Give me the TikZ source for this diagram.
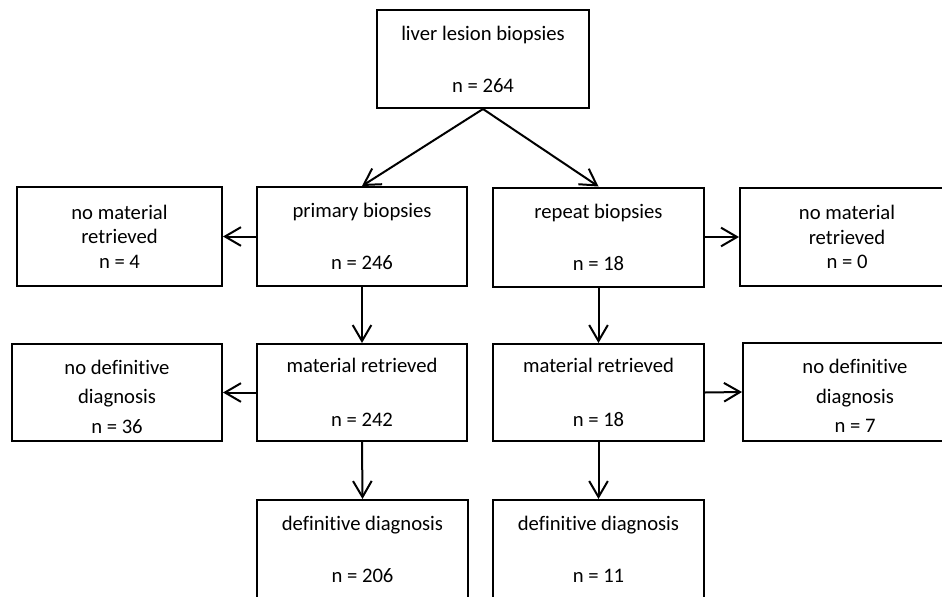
\documentclass[tikz,border=0pt]{standalone}
\usepackage{fontspec}
\setmainfont{Carlito}[Ligatures=NoCommon]
\usetikzlibrary{arrows.meta}
\tikzset{
  box/.style={draw=black, line width=1.5pt, fill=white, inner sep=0pt, align=center,
    font=\fontsize{15.5}{18.4}\selectfont},
  txt/.style={inner sep=0pt, align=center, font=\fontsize{15.5}{22.1}\selectfont},
  arr/.style={line width=1.5pt, -{Straight Barb[length=12pt,width=14pt,line width=1.5pt]}}
}
\begin{document}
\begin{tikzpicture}[x=0.75pt,y=-0.75pt]
\useasboundingbox (0,0) rectangle (942,596);
\clip (0,0) rectangle (942,596);
\fill[white] (0,0) rectangle (942,596);
\node[box, minimum width=212*0.75pt, minimum height=98*0.75pt] (top) at (483,59) {liver lesion biopsies\\[20.5pt]n = 264};
\node[box, minimum width=205*0.75pt, minimum height=99*0.75pt] (nm1) at (119.5,236.5) {no material\\retrieved\\n = 4};
\node[box, minimum width=210*0.75pt, minimum height=99*0.75pt] (prim) at (362,236.5) {primary biopsies\\[20.5pt]n = 246};
\node[box, minimum width=211*0.75pt, minimum height=99*0.75pt] (rep) at (598.5,237) {repeat biopsies\\[20.5pt]n = 18};
\node[box, minimum width=214*0.75pt, minimum height=98*0.75pt] (nm2) at (847,237) {no material\\retrieved\\n = 0};
\node[box, minimum width=210*0.75pt, minimum height=97*0.75pt] (nd1) at (117,392.5) {};
\node[txt] (nd1t) at (117,396.5) {no definitive\\diagnosis\\n = 36};
\node[box, minimum width=210*0.75pt, minimum height=97*0.75pt] (mat1) at (362,392.5) {material retrieved\\[22pt]n = 242};
\node[box, minimum width=211*0.75pt, minimum height=97*0.75pt] (mat2) at (598.5,392.5) {material retrieved\\[22pt]n = 18};
\node[box, minimum width=224*0.75pt, minimum height=98*0.75pt] (nd2) at (855,392) {};
\node[txt] (nd2t) at (855,396) {no definitive\\diagnosis\\n = 7};
\node[box, minimum width=211*0.75pt, minimum height=98*0.75pt] (def1) at (362.5,549) {definitive diagnosis\\[20.5pt]n = 206};
\node[box, minimum width=211*0.75pt, minimum height=98*0.75pt] (def2) at (598.5,549) {definitive diagnosis\\[20.5pt]n = 11};
\draw[arr] (top.south) -- (prim.north);
\draw[arr] (top.south) -- (rep.north);
\draw[arr] (prim.west) -- (nm1.east);
\draw[arr] (rep.east) -- (nm2.west);
\draw[arr] (prim.south) -- (mat1.north);
\draw[arr] (rep.south) -- (mat2.north);
\draw[arr] (mat1.west) -- (nd1.east);
\draw[arr] (mat2.east) -- (nd2.west);
\draw[arr] (mat1.south) -- (def1.north);
\draw[arr] (mat2.south) -- (def2.north);
\end{tikzpicture}
\end{document}
